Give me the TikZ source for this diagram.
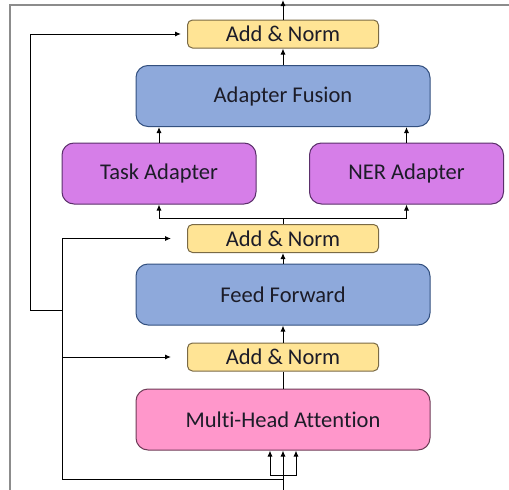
\documentclass[tikz,border=0pt]{standalone}
\usepackage{fontspec}
\setmainfont{Carlito}[Ligatures=NoCommon]
\usetikzlibrary{positioning,arrows.meta}
\definecolor{normfill}{HTML}{FFE495}
\definecolor{normdraw}{HTML}{7A6A45}
\definecolor{bluefill}{HTML}{8EA9DB}
\definecolor{bluedraw}{HTML}{33507F}
\definecolor{adafill}{HTML}{D67EE8}
\definecolor{adadraw}{HTML}{5B2F6B}
\definecolor{attfill}{HTML}{FF97CB}
\definecolor{attdraw}{HTML}{6E3C57}
\definecolor{framegray}{HTML}{8C8C8C}
\definecolor{txt}{HTML}{1C1C28}
\tikzset{
    addnorm/.style={
    rectangle,rounded corners=5pt,draw=normdraw,fill=normfill,line width=1pt,
    minimum width=191pt,minimum height=28pt,inner sep=0pt,font=\fontsize{22.5}{25}\selectfont
    },
    layer/.style={
    rectangle,rounded corners=12pt,draw=bluedraw,fill=bluefill,line width=1pt,
    minimum width=294pt,minimum height=61pt,inner sep=0pt,font=\fontsize{22.5}{25}\selectfont
    },
    adapter/.style={
    rectangle,rounded corners=12pt,draw=adadraw,fill=adafill,line width=1pt,
    minimum width=194pt,minimum height=61pt,inner sep=0pt,font=\fontsize{22.5}{25}\selectfont
    },
    attention/.style={
    rectangle,rounded corners=12pt,draw=attdraw,fill=attfill,line width=1pt,
    minimum width=294pt,minimum height=61pt,inner sep=0pt,font=\fontsize{22.5}{25}\selectfont
    },
    arr/.style={
    -{Latex[length=6pt,width=5pt]},line width=1pt
    },
}
\begin{document}
\begin{tikzpicture}[x=1pt, y=-1pt, on grid, text=txt]
   \useasboundingbox (0,0) rectangle (509,490);
   %frame
   \draw[framegray, line width=1.3pt] (10,490) -- (10,5) -- (509,5);
   %mha
   \node[attention] (mha) at (283,419.5) {Multi-Head Attention};
   %addn1
   \node[addnorm] (addn1) [above = 62.5pt of mha] {Add \& Norm};
   %ff
   \node[layer] (ff) [above = 62.5pt of addn1] {Feed Forward};
   %addn2
   \node[addnorm] (addn2) [above = 56pt of ff] {Add \& Norm};
   %adapters
   \node[adapter] (task) [above left = 65pt and 124pt of addn2] {Task Adapter};
   \node[adapter] (ner) [right = 247.5pt of task] {NER Adapter};
   %fusion
   \node[layer] (fusion) [above = 142.5pt of addn2] {Adapter Fusion};
   %addn3
   \node[addnorm] (addn3) [above = 62pt of fusion] {Add \& Norm};

   %points
   \coordinate (in) at (283,490);
   \coordinate (split) at (283,475);
   \coordinate (res) at (283,479);
   \coordinate (resL) at (62,479);
   \coordinate (br1) at (62,357);
   \coordinate (br2) at (62,310);
   \coordinate (fork) at (283,218);
   \coordinate (out) at (283,0);

   %input
   \draw[arr] (in) -- (mha.south);
   \draw[arr] (split) -| ([xshift=-13pt]mha.south);
   \draw[arr] (split) -| ([xshift=13pt]mha.south);
   %main path
   \draw[line width=1pt] (mha) -- (addn1);
   \draw[arr] (addn1) -- (ff);
   \draw[arr] (ff) -- (addn2);
   \draw[line width=1pt] (addn2) -- (fork);
   \draw[arr] (fork) -| (task.south);
   \draw[arr] (fork) -| (ner.south);
   \draw[arr] (task) -- (task |- fusion.south);
   \draw[arr] (ner) -- (ner |- fusion.south);
   \draw[arr] (fusion) -- (addn3);
   \draw[arr] (addn3) -- (out);
   %residuals
   \draw[arr] (res) -- (resL) |- ([xshift=-16pt]addn2.west);
   \draw[arr] (br1) -- ([xshift=-16pt]addn1.west);
   \draw[arr] (br2) -- ++(-32,0) |- ([xshift=-6pt]addn3.west);
\end{tikzpicture}
\end{document}
